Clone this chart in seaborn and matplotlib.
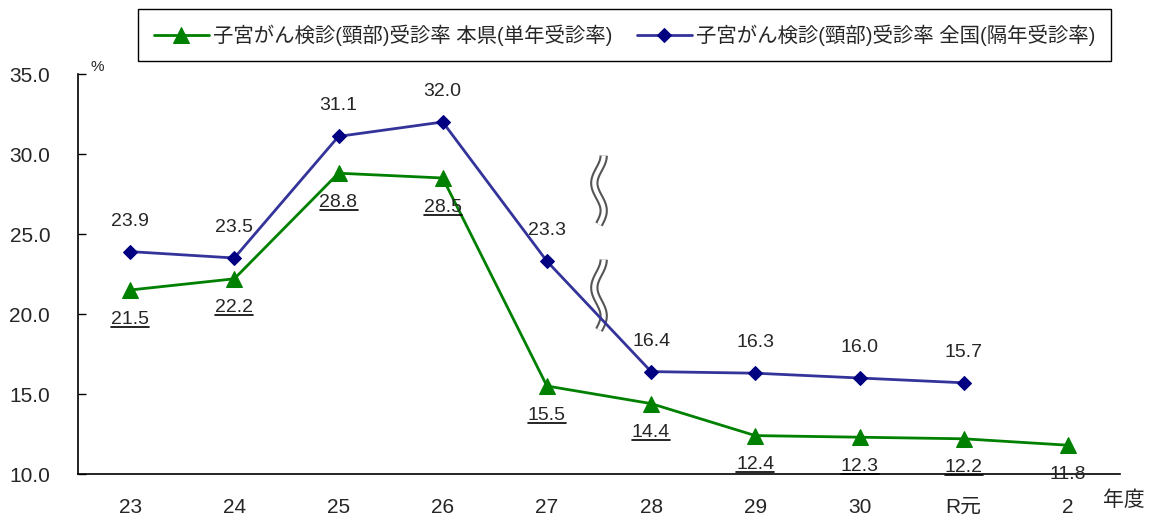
import numpy as np
import matplotlib
matplotlib.use("Agg")
import matplotlib.pyplot as plt
from matplotlib.lines import Line2D
import seaborn as sns

# data
years = ["23", "24", "25", "26", "27", "28", "29", "30", "R元", "2"]
pref_rate = [21.5, 22.2, 28.8, 28.5, 15.5, 14.4, 12.4, 12.3, 12.2, 11.8]
natl_rate = [23.9, 23.5, 31.1, 32.0, 23.3, 16.4, 16.3, 16.0, 15.7]
pref_label = "子宮がん検診(頸部)受診率 本県(単年受診率)"
natl_label = "子宮がん検診(頸部)受診率 全国(隔年受診率)"
underlined = [True] * 9 + [False]

GREEN = "#008000"
BLUE_LINE = "#33339a"
BLUE_MK = "#000080"
FAM = ["Liberation Sans", "Noto Sans CJK JP"]

sns.set_theme(style="white")
plt.rcParams["font.family"] = FAM

fig = plt.figure(figsize=(11.5, 5.19), dpi=100)
ax = fig.add_axes([78 / 1150, 45 / 519, 1042 / 1150, 400 / 519])

x = np.arange(len(years))
sns.lineplot(x=x, y=pref_rate, ax=ax, color=GREEN, lw=2, marker="^",
             markersize=11, markeredgecolor=GREEN, markerfacecolor=GREEN,
             label=pref_label, zorder=3)
sns.lineplot(x=x[:len(natl_rate)], y=natl_rate, ax=ax, color=BLUE_LINE, lw=2,
             marker="D", markersize=7, markeredgecolor=BLUE_MK,
             markerfacecolor=BLUE_MK, label=natl_label, zorder=3)

ax.set_xlim(-0.5, len(years) - 0.5)
ax.set_ylim(10, 35)
ax.set_yticks(np.arange(10, 36, 5))
ax.set_yticklabels([f"{v:.1f}" for v in np.arange(10, 36, 5)], fontsize=15)
ax.set_xticks(x)
ax.set_xticklabels(years, fontsize=15)
ax.set_xticks(np.arange(-0.5, len(years)), minor=True)
ax.tick_params(axis="x", which="major", length=0, pad=17)
ax.tick_params(axis="x", which="minor", direction="in", length=6, width=1, color="black")
ax.tick_params(axis="y", direction="in", length=6, width=1, color="black", pad=20, left=True)
for s in ["top", "right"]:
    ax.spines[s].set_visible(False)
for s in ["left", "bottom"]:
    ax.spines[s].set_color("black")
    ax.spines[s].set_linewidth(1.2)

# data labels
ul_texts = []
for i, v in enumerate(pref_rate):
    t = ax.annotate(f"{v:.1f}", (x[i], v), xytext=(0, -21), textcoords="offset points",
                    ha="center", va="center", fontsize=14)
    if underlined[i]:
        ul_texts.append(t)
for i, v in enumerate(natl_rate):
    ax.annotate(f"{v:.1f}", (x[i], v), xytext=(0, 22), textcoords="offset points",
                ha="center", va="center", fontsize=14)

# break marks between 27 and 28
for y0, y1 in [(25.6, 29.9), (19.0, 23.4)]:
    yy = np.linspace(y0, y1, 60)
    xx = 4.5 + 0.045 * np.sin((yy - y0) / (y1 - y0) * 2.5 * np.pi)
    ax.plot(xx, yy, color="#555555", lw=6, solid_capstyle="butt", zorder=2)
    ax.plot(xx, yy, color="white", lw=3, solid_capstyle="butt", zorder=2)

ax.text(0.012, 1.0, "%", transform=ax.transAxes, fontsize=11, ha="left", va="bottom")
fig.text(1103 / 1150, 19 / 519, "年度", fontsize=15, ha="left", va="center")

ax.get_legend().remove()
handles, labels = ax.get_legend_handles_labels()
leg = fig.legend(handles, labels, loc="center", ncol=2,
                 bbox_to_anchor=(624.5 / 1150, 1 - 35 / 519), fontsize=14.7,
                 frameon=True, fancybox=False, edgecolor="black", framealpha=1,
                 handlelength=2.7, columnspacing=1.2, borderpad=0.75, handletextpad=0.2)
leg.get_frame().set_linewidth(1.0)
ul_texts.append(leg.get_texts()[0])

# underline selected texts
fig.canvas.draw()
W, H = fig.canvas.get_width_height()
for t in ul_texts:
    bb = t.get_window_extent()
    col = "#777777" if t is leg.get_texts()[0] else "black"
    yb = bb.y0 + 1
    fig.add_artist(Line2D([bb.x0 / W, bb.x1 / W], [yb / H, yb / H],
                          transform=fig.transFigure, color=col, lw=1.2))

fig.savefig("out.png", dpi=100)
